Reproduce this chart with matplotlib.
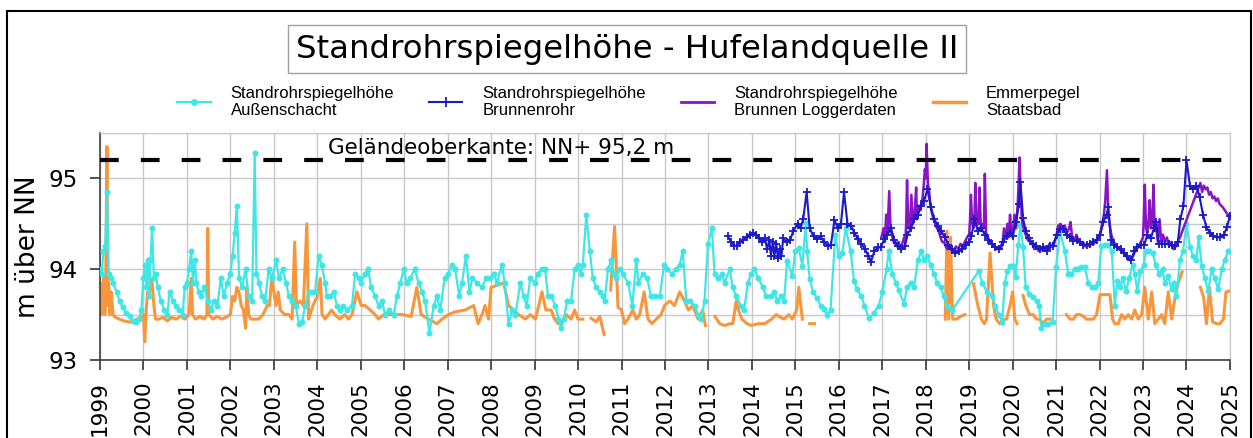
import numpy as np
import matplotlib.pyplot as plt
from matplotlib.patches import Rectangle
from matplotlib.lines import Line2D

nan = np.nan

# Standrohrspiegelhöhe Außenschacht (decimal year, m über NN)
cyan_t = [1999.00, 1999.04, 1999.08, 1999.12, 1999.16, 1999.20, 1999.25, 1999.30, 1999.38, 1999.45,
          1999.52, 1999.60, 1999.68, 1999.75, 1999.82, 1999.90, 1999.95, 2000.00, 2000.03, 2000.07,
          2000.10, 2000.13, 2000.16, 2000.20, 2000.24, 2000.28, 2000.33, 2000.40, 2000.48, 2000.55,
          2000.60, 2000.68, 2000.75, 2000.82, 2000.90, 2000.95, 2001.00, 2001.05, 2001.10, 2001.14,
          2001.18, 2001.22, 2001.27, 2001.33, 2001.40, 2001.48, 2001.55, 2001.62, 2001.70, 2001.78,
          2001.85, 2001.92, 2002.00, 2002.05, 2002.10, 2002.15, 2002.20, 2002.27, 2002.35, 2002.42,
          2002.50, 2002.56, 2002.60, 2002.66, 2002.73, 2002.80, 2002.88, 2002.96, 2003.05, 2003.12,
          2003.20, 2003.28, 2003.35, 2003.42, 2003.50, 2003.58, 2003.65, 2003.72, 2003.80, 2003.88,
          2003.95, 2004.03, 2004.10, 2004.18, 2004.22, 2004.30, 2004.38, 2004.45, 2004.53, 2004.60,
          2004.68, 2004.80, 2004.87, 2004.95, 2005.01, 2005.09, 2005.17, 2005.24, 2005.33, 2005.41,
          2005.49, 2005.56, 2005.64, 2005.76, 2005.83, 2005.91, 2005.99, 2006.06, 2006.14, 2006.24,
          2006.33, 2006.41, 2006.48, 2006.58, 2006.68, 2006.75, 2006.83, 2006.93, 2007.01, 2007.10,
          2007.17, 2007.27, 2007.33, 2007.42, 2007.50, 2007.57, 2007.67, 2007.79, 2007.88, 2007.98,
          2008.06, 2008.13, 2008.25, 2008.31, 2008.40, 2008.49, 2008.56, 2008.67, 2008.75, 2008.82,
          2008.90, 2009.01, 2009.07, 2009.17, 2009.24, 2009.31, 2009.38, 2009.48, 2009.55, 2009.61,
          2009.67, 2009.75, 2009.84, 2009.92, 2010.00, 2010.06, 2010.11, 2010.19, 2010.27, 2010.34,
          2010.42, 2010.50, 2010.57, 2010.61, 2010.69, 2010.76, 2010.82, 2010.88, 2010.96, 2011.03,
          2011.15, 2011.25, 2011.34, 2011.39, 2011.49, 2011.59, 2011.68, 2011.76, 2011.88, 2011.98,
          2012.05, 2012.16, 2012.26, 2012.34, 2012.41, 2012.49, 2012.57, 2012.68, 2012.76, 2012.83,
          2012.91, 2012.99, 2013.08, 2013.14, 2013.23, 2013.31, 2013.37, 2013.49, 2013.56, 2013.64,
          2013.74, 2013.82, 2013.91, 2013.98, 2014.06, 2014.15, 2014.25, 2014.33, 2014.43, 2014.52,
          2014.58, 2014.67, 2014.74, 2014.81, 2014.93, 2015.00, 2015.08, 2015.16, 2015.24, 2015.27,
          2015.33, 2015.41, 2015.50, 2015.58, 2015.66, 2015.73, 2015.81, 2015.92, 2016.00, 2016.08,
          2016.16, 2016.27, 2016.35, 2016.42, 2016.52, 2016.59, 2016.69, 2016.81, 2016.92, 2017.00,
          2017.10, 2017.15, 2017.23, 2017.31, 2017.38, 2017.50, 2017.57, 2017.65, 2017.73, 2017.82,
          2017.90, 2017.96, 2018.03, 2018.11, 2018.19, 2018.26, 2018.34, 2018.42, 2018.49, 2018.61,
          2019.22, 2019.30, 2019.41, 2019.53, 2019.60, 2019.68, 2019.76, 2019.82, 2019.88, 2019.94,
          2020.01, 2020.07, 2020.13, 2020.18, 2020.24, 2020.30, 2020.38, 2020.47, 2020.55, 2020.61,
          2020.66, 2020.74, 2020.82, 2020.92, 2021.00, 2021.09, 2021.20, 2021.28, 2021.35, 2021.43,
          2021.51, 2021.58, 2021.66, 2021.74, 2021.82, 2021.89, 2021.97, 2022.04, 2022.12, 2022.20,
          2022.28, 2022.35, 2022.41, 2022.47, 2022.53, 2022.61, 2022.68, 2022.76, 2022.81, 2022.87,
          2022.94, 2023.02, 2023.06, 2023.14, 2023.22, 2023.29, 2023.37, 2023.45, 2023.50, 2023.58,
          2023.66, 2023.71, 2023.77, 2023.85, 2023.92, 2024.00, 2024.08, 2024.15, 2024.23, 2024.28,
          2024.35, 2024.42, 2024.50, 2024.58, 2024.65, 2024.73, 2024.81, 2024.88, 2024.96, 2025.00]
cyan_h = [94.00, 93.95, 94.20, 94.25, 94.85, 93.95, 93.90, 93.85, 93.75, 93.65,
          93.58, 93.52, 93.48, 93.43, 93.42, 93.45, 93.55, 93.90, 94.05, 93.80,
          94.10, 93.70, 94.10, 94.45, 93.90, 93.95, 93.80, 93.65, 93.55, 93.50,
          93.75, 93.65, 93.60, 93.55, 93.50, 93.80, 93.85, 94.00, 94.20, 93.85,
          94.10, 93.85, 93.75, 93.70, 93.80, 93.65, 93.55, 93.65, 93.60, 93.90,
          93.70, 93.85, 93.95, 94.15, 94.40, 94.70, 93.90, 93.80, 94.00, 93.70,
          93.65, 95.28, 93.95, 93.85, 93.70, 93.65, 94.00, 93.90, 94.10, 93.90,
          94.00, 93.85, 93.70, 93.65, 93.60, 93.40, 93.42, 93.60, 93.75, 93.75,
          93.75, 94.15, 94.05, 93.85, 93.70, 93.70, 93.75, 93.60, 93.55, 93.60,
          93.55, 93.60, 93.95, 93.90, 93.85, 93.95, 94.00, 93.80, 93.70, 93.60,
          93.65, 93.50, 93.55, 93.50, 93.70, 93.85, 94.00, 93.85, 93.90, 94.00,
          93.85, 93.75, 93.65, 93.30, 93.60, 93.70, 93.55, 93.90, 93.95, 94.05,
          94.00, 93.70, 93.85, 94.15, 93.75, 93.90, 93.85, 93.80, 93.90, 93.90,
          93.95, 93.85, 94.05, 93.85, 93.40, 93.55, 93.50, 93.85, 93.70, 93.60,
          93.90, 93.85, 93.95, 94.00, 94.00, 93.70, 93.70, 93.60, 93.45, 93.35,
          93.45, 93.65, 93.65, 94.00, 94.05, 93.95, 94.05, 94.60, 94.20, 93.90,
          93.80, 93.75, 93.70, 93.65, 94.00, 94.10, 93.95, 93.90, 94.00, 93.95,
          93.85, 93.60, 94.10, 93.85, 93.95, 93.90, 93.70, 93.70, 93.70, 94.05,
          94.00, 93.95, 94.00, 94.05, 94.20, 93.65, 93.65, 93.60, 93.50, 93.45,
          93.65, 94.28, 94.45, 93.95, 93.90, 93.95, 93.85, 94.00, 93.80, 93.70,
          93.60, 93.55, 93.85, 93.95, 94.00, 93.90, 93.80, 93.70, 93.70, 93.75,
          93.65, 93.70, 93.65, 94.09, 93.93, 94.20, 94.23, 94.04, 94.51, 94.20,
          93.89, 93.75, 93.68, 93.60, 93.56, 93.50, 93.55, 94.38, 94.14, 94.18,
          94.45, 94.20, 93.87, 93.78, 93.70, 93.60, 93.46, 93.52, 93.60, 93.75,
          94.00, 94.20, 93.95, 93.85, 93.77, 93.62, 93.80, 93.85, 93.80, 94.10,
          94.20, 94.10, 94.15, 94.05, 93.95, 93.85, 93.80, 93.70, 93.60, 93.55,
          93.98, 93.85, 93.75, 93.70, 93.60, 93.50, 93.42, 93.85, 93.98, 94.04,
          94.04, 93.91, 94.27, 94.49, 94.24, 93.80, 93.73, 93.69, 93.65, 93.60,
          93.35, 93.40, 93.40, 93.42, 94.02, 94.42, 94.20, 93.95, 93.95, 94.00,
          94.00, 94.02, 94.02, 93.85, 93.80, 93.80, 93.85, 94.25, 94.27, 94.27,
          94.20, 93.60, 93.87, 93.80, 93.90, 93.76, 93.90, 94.05, 93.95, 93.76,
          93.98, 94.05, 94.20, 94.20, 94.18, 94.05, 93.95, 94.00, 93.85, 93.92,
          93.78, 93.85, 93.70, 94.10, 94.20, 94.50, 94.24, 94.15, 94.10, 94.35,
          94.04, 93.90, 93.76, 94.00, 93.90, 93.78, 94.00, 94.10, 94.20, 94.20]

# Standrohrspiegelhöhe Brunnenrohr
blue_t = [2013.45, 2013.52, 2013.58, 2013.65, 2013.72, 2013.80, 2013.88, 2013.95, 2014.02, 2014.10,
          2014.17, 2014.24, 2014.30, 2014.35, 2014.40, 2014.44, 2014.48, 2014.52, 2014.56, 2014.60,
          2014.64, 2014.68, 2014.72, 2014.80, 2014.88, 2014.95, 2015.05, 2015.12, 2015.18, 2015.26,
          2015.33, 2015.42, 2015.50, 2015.58, 2015.66, 2015.74, 2015.82, 2015.90, 2015.98, 2016.05,
          2016.12, 2016.20, 2016.28, 2016.36, 2016.44, 2016.52, 2016.60, 2016.68, 2016.74, 2016.82,
          2016.90, 2016.96, 2017.05, 2017.12, 2017.20, 2017.28, 2017.36, 2017.44, 2017.52, 2017.58,
          2017.66, 2017.74, 2017.82, 2017.90, 2017.96, 2018.04, 2018.12, 2018.20, 2018.28, 2018.36,
          2018.44, 2018.52, 2018.60, 2018.68, 2018.76, 2018.84, 2018.92, 2019.00, 2019.05, 2019.12,
          2019.20, 2019.28, 2019.36, 2019.44, 2019.52, 2019.60, 2019.68, 2019.78, 2019.86, 2019.94,
          2020.00, 2020.08, 2020.14, 2020.18, 2020.24, 2020.30, 2020.38, 2020.46, 2020.54, 2020.62,
          2020.70, 2020.78, 2020.86, 2020.94, 2021.01, 2021.09, 2021.17, 2021.24, 2021.32, 2021.40,
          2021.47, 2021.55, 2021.63, 2021.70, 2021.78, 2021.86, 2021.93, 2022.01, 2022.09, 2022.16,
          2022.20, 2022.26, 2022.34, 2022.41, 2022.49, 2022.57, 2022.64, 2022.72, 2022.80, 2022.87,
          2022.95, 2023.03, 2023.10, 2023.18, 2023.25, 2023.30, 2023.36, 2023.44, 2023.51, 2023.59,
          2023.67, 2023.74, 2023.80, 2023.86, 2023.93, 2024.00, 2024.08, 2024.15, 2024.23, 2024.30,
          2024.38, 2024.46, 2024.54, 2024.62, 2024.70, 2024.78, 2024.86, 2024.93, 2025.00]
blue_h = [94.36, 94.30, 94.26, 94.26, 94.30, 94.32, 94.35, 94.38, 94.40, 94.38,
          94.34, 94.30, 94.34, 94.22, 94.32, 94.14, 94.30, 94.15, 94.28, 94.12,
          94.22, 94.14, 94.34, 94.30, 94.32, 94.42, 94.50, 94.45, 94.55, 94.85,
          94.45, 94.36, 94.33, 94.36, 94.30, 94.26, 94.27, 94.54, 94.45, 94.50,
          94.85, 94.50, 94.48, 94.40, 94.33, 94.28, 94.22, 94.15, 94.08, 94.20,
          94.24, 94.24, 94.33, 94.38, 94.45, 94.32, 94.26, 94.22, 94.25, 94.38,
          94.45, 94.55, 94.60, 94.70, 94.75, 94.88, 94.68, 94.55, 94.48, 94.42,
          94.35, 94.27, 94.22, 94.18, 94.20, 94.22, 94.27, 94.30, 94.36, 94.55,
          94.42, 94.45, 94.38, 94.32, 94.28, 94.24, 94.22, 94.30, 94.37, 94.40,
          94.36, 94.52, 94.72, 94.96, 94.56, 94.42, 94.34, 94.28, 94.25, 94.22,
          94.24, 94.20, 94.25, 94.25, 94.38, 94.44, 94.44, 94.38, 94.35, 94.31,
          94.32, 94.30, 94.27, 94.27, 94.28, 94.30, 94.32, 94.38, 94.52, 94.60,
          94.68, 94.32, 94.27, 94.24, 94.22, 94.18, 94.14, 94.10, 94.20, 94.24,
          94.27, 94.27, 94.38, 94.34, 94.45, 94.52, 94.28, 94.28, 94.28, 94.28,
          94.27, 94.25, 94.30, 94.55, 94.70, 95.20, 94.92, 94.88, 94.92, 94.80,
          94.60, 94.46, 94.40, 94.37, 94.35, 94.35, 94.38, 94.46, 94.59]

# Standrohrspiegelhöhe Brunnen Loggerdaten
purple_t = [2016.98, 2017.03, 2017.06, 2017.09, 2017.12, 2017.16, 2017.19, 2017.22, 2017.26, 2017.30,
            2017.34, 2017.38, 2017.42, 2017.46, 2017.50, 2017.53, 2017.55, 2017.57, 2017.60, 2017.64,
            2017.67, 2017.70, 2017.74, 2017.78, 2017.80, 2017.84, 2017.88, 2017.92, 2017.95, 2017.98,
            2018.00, 2018.02, 2018.05, 2018.08, 2018.11, 2018.14, 2018.18, 2018.22, 2018.26, 2018.30,
            2018.34, 2018.38, 2018.42, 2018.46, 2018.50, 2018.55, 2018.60, 2018.65, 2018.70, 2018.75,
            2018.80, 2018.85, 2018.90, 2018.95, 2019.00, 2019.02, 2019.04, 2019.07, 2019.10, 2019.12,
            2019.14, 2019.17, 2019.21, 2019.24, 2019.27, 2019.31, 2019.34, 2019.36, 2019.39, 2019.43,
            2019.48, 2019.53, 2019.58, 2019.63, 2019.68, 2019.73, 2019.77, 2019.80, 2019.84, 2019.88,
            2019.91, 2019.94, 2019.97, 2020.00, 2020.04, 2020.08, 2020.12, 2020.16, 2020.18, 2020.21,
            2020.25, 2020.30, 2020.35, 2020.40, 2020.45, 2020.50, 2020.55, 2020.60, 2020.65, 2020.70,
            2020.75, 2020.80, 2020.85, 2020.90, 2020.95, 2021.00, 2021.05, 2021.10, 2021.15, 2021.20,
            2021.25, 2021.30, 2021.33, 2021.37, 2021.42, 2021.47, 2021.52, 2021.57, 2021.62, 2021.67,
            2021.72, 2021.77, 2021.82, 2021.87, 2021.92, 2021.97, 2022.02, 2022.06, 2022.10, 2022.13,
            2022.17, 2022.20, 2022.23, 2022.27, 2022.31, 2022.35, 2022.40, 2022.45, 2022.50, 2022.55,
            2022.60, 2022.65, 2022.70, 2022.75, 2022.80, 2022.85, 2022.90, 2022.95, 2023.00, 2023.02,
            2023.04, 2023.07, 2023.10, 2023.13, 2023.15, 2023.18, 2023.21, 2023.24, 2023.27, 2023.30,
            2023.34, 2023.38, 2023.42, 2023.46, 2023.50, 2023.55, 2023.60, 2023.65, 2023.70, 2023.75,
            2023.80, 2023.85, 2024.24, 2024.28, 2024.32, 2024.36, 2024.40, 2024.44, 2024.48, 2024.52,
            2024.56, 2024.60, 2024.64, 2024.68, 2024.72, 2024.76, 2024.80, 2024.84, 2024.88, 2024.92,
            2024.96, 2025.00]
purple_h = [94.35, 94.45, 94.30, 94.60, 94.40, 94.86, 94.45, 94.38, 94.30, 94.28,
            94.25, 94.30, 94.22, 94.28, 94.35, 94.30, 94.50, 94.98, 94.45, 94.50,
            94.82, 94.50, 94.60, 94.90, 94.55, 94.70, 94.65, 94.75, 94.90, 95.10,
            95.00, 95.38, 94.95, 94.85, 94.70, 94.62, 94.55, 94.50, 94.45, 94.42,
            94.35, 94.30, 94.30, 94.25, 94.22, 94.25, 94.20, 94.22, 94.25, 94.22,
            94.28, 94.25, 94.30, 94.35, 94.38, 94.55, 94.82, 94.50, 94.45, 94.55,
            94.95, 94.48, 94.50, 94.90, 94.42, 94.50, 94.45, 95.05, 94.40, 94.35,
            94.30, 94.28, 94.25, 94.22, 94.25, 94.22, 94.30, 94.45, 94.35, 94.50,
            94.35, 94.60, 94.40, 94.35, 94.60, 94.45, 94.75, 95.23, 94.90, 94.55,
            94.45, 94.38, 94.32, 94.30, 94.28, 94.22, 94.25, 94.20, 94.22, 94.20,
            94.25, 94.22, 94.28, 94.25, 94.30, 94.35, 94.48, 94.50, 94.45, 94.48,
            94.40, 94.45, 94.52, 94.35, 94.32, 94.38, 94.30, 94.28, 94.30, 94.25,
            94.28, 94.25, 94.30, 94.28, 94.32, 94.35, 94.40, 94.50, 94.60, 94.75,
            95.09, 94.65, 94.50, 94.38, 94.32, 94.28, 94.25, 94.22, 94.20, 94.18,
            94.15, 94.12, 94.10, 94.12, 94.18, 94.22, 94.25, 94.30, 94.35, 94.60,
            94.93, 94.45, 94.40, 94.55, 94.76, 94.45, 94.50, 94.93, 94.42, 94.50,
            94.30, 94.55, 94.30, 94.38, 94.30, 94.35, 94.25, 94.30, 94.22, 94.25,
            94.30, 94.35, 94.85, 94.90, 94.95, 94.85, 94.92, 94.88, 94.90, 94.82,
            94.85, 94.78, 94.80, 94.75, 94.78, 94.72, 94.70, 94.68, 94.65, 94.62,
            94.60, 94.55]

# Emmerpegel Staatsbad (nan = Datenlücke)
orange_t = [1999.00, 1999.03, 1999.05, 1999.07, 1999.09, 1999.11, 1999.13, 1999.16, 1999.18, 1999.20,
            1999.23, 1999.26, 1999.30, 1999.35, 1999.45, 1999.55, 1999.65, 1999.75, 1999.85, 1999.95,
            2000.00, 2000.03, 2000.07, 2000.10, 2000.13, 2000.16, 2000.20, 2000.24, 2000.28, 2000.35,
            2000.45, 2000.55, 2000.65, 2000.75, 2000.85, 2000.95, 2001.05, 2001.10, 2001.13, 2001.20,
            2001.30, 2001.40, 2001.46, 2001.48, 2001.50, 2001.60, 2001.70, 2001.80, 2001.90, 2002.00,
            2002.05, 2002.10, 2002.15, 2002.20, 2002.25, 2002.30, 2002.35, 2002.38, 2002.42, 2002.47,
            2002.55, 2002.65, 2002.75, 2002.85, 2002.90, 2002.95, 2003.00, 2003.05, 2003.10, 2003.15,
            2003.25, 2003.35, 2003.42, 2003.48, 2003.52, 2003.60, 2003.68, 2003.76, 2003.80, 2003.90,
            2004.00, 2004.07, 2004.11, 2004.18, 2004.33, 2004.40, 2004.52, 2004.63, 2004.72, 2004.80,
            2004.91, 2005.01, 2005.10, 2005.22, 2005.33, 2005.41, 2005.53, 2005.64, 2005.76, 2005.95,
            2006.16, 2006.29, 2006.39, 2006.56, 2006.75, 2006.87, 2007.02, 2007.17, 2007.40, 2007.60,
            2007.70, 2007.79, 2007.86, 2007.94, 2008.00, 2008.13, 2008.29, 2008.40, 2008.52, 2008.63,
            2008.79, 2008.90, 2009.02, 2009.17, 2009.26, 2009.38, 2009.46, 2009.54, 2009.61, 2009.73,
            2009.84, 2009.92, 2010.00, 2010.11, 2010.20, 2010.30, 2010.42, 2010.50, 2010.60, 2010.67,
            2010.75, 2010.84, 2010.92, 2011.00, 2011.07, 2011.15, 2011.26, 2011.34, 2011.42, 2011.52,
            2011.61, 2011.70, 2011.80, 2011.91, 2011.99, 2012.11, 2012.22, 2012.34, 2012.45, 2012.54,
            2012.64, 2012.76, 2012.87, 2012.93, 2013.05, 2013.15, 2013.26, 2013.37, 2013.49, 2013.56,
            2013.64, 2013.69, 2013.77, 2013.89, 2013.99, 2014.14, 2014.30, 2014.45, 2014.56, 2014.62,
            2014.74, 2014.85, 2014.93, 2015.03, 2015.08, 2015.16, 2015.25, 2015.33, 2015.44, 2016.00,
            2018.45, 2018.49, 2018.53, 2018.57, 2018.62, 2018.70, 2018.80, 2018.90, 2019.00, 2019.10,
            2019.20, 2019.28, 2019.35, 2019.40, 2019.48, 2019.56, 2019.62, 2019.70, 2019.78, 2019.86,
            2019.94, 2020.00, 2020.05, 2020.10, 2020.17, 2020.24, 2020.30, 2020.39, 2020.47, 2020.55,
            2020.62, 2020.70, 2020.78, 2020.86, 2021.05, 2021.24, 2021.32, 2021.40, 2021.47, 2021.55,
            2021.63, 2021.70, 2021.78, 2021.86, 2021.93, 2022.01, 2022.13, 2022.24, 2022.30, 2022.35,
            2022.43, 2022.51, 2022.58, 2022.66, 2022.74, 2022.81, 2022.89, 2022.97, 2023.04, 2023.12,
            2023.20, 2023.27, 2023.35, 2023.43, 2023.50, 2023.58, 2023.66, 2023.74, 2023.81, 2023.90,
            2024.10, 2024.32, 2024.39, 2024.46, 2024.53, 2024.60, 2024.69, 2024.77, 2024.85, 2024.91,
            2025.00]
orange_h = [93.70, 93.50, 93.85, 93.55, 93.90, 93.50, 93.70, 95.35, 93.60, 93.85,
            93.50, 93.75, 93.50, 93.47, 93.45, 93.43, 93.42, 93.42, 93.45, 93.45,
            93.50, 93.20, 93.60, 93.75, 93.70, 93.90, 93.85, 93.60, 93.45, 93.45,
            93.47, 93.43, 93.47, 93.45, 93.48, 93.45, 93.50, 93.90, 93.50, 93.45,
            93.48, 93.45, 93.50, 94.45, 93.50, 93.45, 93.48, 93.45, 93.47, 93.50,
            93.70, 93.65, 93.80, 93.75, 93.60, 93.55, 93.35, 93.80, 93.50, 93.45,
            93.45, 93.45, 93.50, 93.60, 93.60, 93.90, 93.75, 93.60, 93.75, 93.55,
            93.50, 93.50, 93.45, 94.30, 93.60, 93.65, 93.60, 94.50, 93.45, 93.60,
            93.70, 93.90, 93.50, 93.45, 93.55, 93.50, 93.45, 93.50, 93.45, 93.50,
            93.75, 93.60, 93.60, 93.55, 93.50, 93.45, 93.50, 93.50, 93.50, 93.50,
            93.48, 93.80, 93.50, 93.45, 93.40, 93.45, 93.50, 93.53, 93.55, 93.60,
            93.40, 93.50, 93.60, 93.45, 93.80, 93.82, 93.85, 93.60, 93.55, 93.50,
            93.45, 93.50, 93.45, 93.75, 93.55, 93.55, 93.45, 93.40, 93.40, 93.50,
            93.45, 93.55, 93.45, 93.45, nan, 93.46, 93.42, 93.48, 93.28, nan,
            93.77, 94.47, 93.58, 93.55, 93.40, 93.45, 93.55, 93.45, 93.50, 93.75,
            93.45, 93.40, 93.45, 93.50, 93.60, 93.65, 93.60, 93.75, 93.65, 93.55,
            93.60, 93.45, 93.55, 93.38, nan, 93.48, 93.40, 93.38, 93.40, 93.40,
            93.65, 93.55, 93.45, 93.40, 93.38, 93.40, 93.40, 93.45, 93.50, 93.48,
            93.45, 93.50, 93.45, 93.55, 93.80, 93.45, nan, 93.40, 93.40, nan,
            93.45, 94.42, 93.45, 94.35, 93.45, 93.45, 93.48, 93.50, nan, 93.84,
            93.60, 93.45, 93.40, 93.45, 94.18, 93.60, 93.45, 93.40, 93.45, 93.45,
            93.60, 93.75, 93.45, 93.40, nan, 93.71, 93.60, 93.50, 93.50, 93.45,
            93.45, 93.40, 93.45, 93.45, nan, 93.50, 93.45, 93.45, 93.50, 93.50,
            93.48, 93.45, 93.45, 93.45, 93.50, 93.72, 93.72, 93.72, 93.45, 93.40,
            93.40, 93.50, 93.45, 93.50, 93.45, 93.55, 93.45, 93.50, 93.80, 93.45,
            93.75, 93.40, 93.45, 93.50, 93.40, 93.75, 93.45, 93.70, 93.85, 93.97,
            nan, 93.80, 93.70, 93.40, 93.80, 93.42, 93.40, 93.40, 93.45, 93.75,
            93.76]

years = list(range(1999, 2026))
gok = 95.2  # Geländeoberkante

fig = plt.figure(figsize=(12.53, 4.38), dpi=100)
ax = fig.add_axes([0.0798, 0.1781, 0.9018, 0.5183])

l_or, = ax.plot(orange_t, orange_h, color='#f7963c', lw=2.2, zorder=2)
l_cy, = ax.plot(cyan_t, cyan_h, color='#40e6e6', lw=1.6, marker='o', ms=3.3, zorder=3)
l_pu, = ax.plot(purple_t, purple_h, color='#8a14c4', lw=1.8, zorder=4)
l_bl, = ax.plot(blue_t, blue_h, color='#1a1ac8', lw=1.5, marker='+', ms=6, mew=1.3, zorder=5)
ax.axhline(gok, color='black', lw=3, dashes=(4.5, 5.3), zorder=6)
ax.text(2004.25, 95.27, 'Geländeoberkante: NN+ 95,2 m', fontsize=15.5, va='baseline', zorder=7)

ax.set_xlim(1999, 2025)
ax.set_ylim(93, 95.5)
ax.set_xticks(years)
ax.set_xticklabels([str(y) for y in years], rotation=90, fontsize=15.5)
ax.set_yticks([93, 94, 95])
ax.set_yticklabels(['93', '94', '95'], fontsize=16.5)
ax.set_yticks([93.5, 94.5, 95.5], minor=True)
ax.tick_params(which='major', direction='out', length=7, width=1.2, color='#333333')
ax.tick_params(axis='x', pad=8)
ax.tick_params(axis='y', pad=9)
ax.tick_params(which='minor', length=0)
ax.grid(which='both', color='#c8c8c8', lw=1)
ax.set_axisbelow(True)
for s in ['top', 'right']:
    ax.spines[s].set_color('#c8c8c8')
for s in ['left', 'bottom']:
    ax.spines[s].set_color('#404040')
    ax.spines[s].set_linewidth(1.2)

fig.text(0.0223, 0.437, 'm über NN', rotation=90, fontsize=19, ha='center', va='center')

fig.text(0.5004, 0.888, 'Standrohrspiegelhöhe - Hufelandquelle II', fontsize=23.3,
         ha='center', va='center',
         bbox=dict(boxstyle='square,pad=0.25', fc='white', ec='#a0a0a0', lw=1))

handles = [Line2D([], [], color='#40e6e6', lw=1.6, marker='o', ms=4),
           Line2D([], [], color='#1a1ac8', lw=1.5, marker='+', ms=7, mew=1.3),
           Line2D([], [], color='#8a14c4', lw=2),
           Line2D([], [], color='#f7963c', lw=2.5)]
labels = ['Standrohrspiegelhöhe\nAußenschacht', 'Standrohrspiegelhöhe\nBrunnenrohr',
          'Standrohrspiegelhöhe\nBrunnen Loggerdaten', 'Emmerpegel\nStaatsbad']
fig.legend(handles, labels, ncol=4, loc='center', bbox_to_anchor=(0.502, 0.767),
           frameon=False, prop={'family': 'Liberation Sans', 'size': 12},
           handlelength=2.0, handletextpad=1.2, columnspacing=2.1, numpoints=1)

# Rahmen um die Grafik
fig.patches.append(Rectangle((7 / 1253, -0.1), 1244 / 1253, 1.0749, transform=fig.transFigure,
                             fill=False, ec='black', lw=1.5))

plt.savefig('out.png', dpi=100)
